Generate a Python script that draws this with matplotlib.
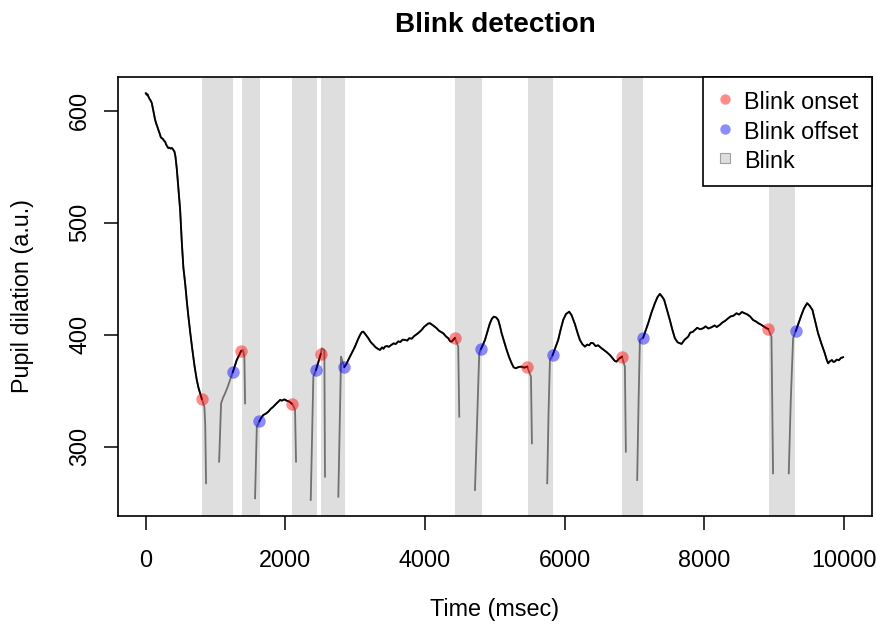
import numpy as np
import matplotlib
matplotlib.use("Agg")
import matplotlib.pyplot as plt
from matplotlib.lines import Line2D

plt.rcParams["font.family"] = ["Liberation Sans", "DejaVu Sans"]

# Pupil trace (msec, a.u.); nan marks missing samples.
nan = float("nan")
time_ms = [
    0, 12, 25, 37, 55, 70, 86, 100, 115, 133, 150, 165, 180, 200, 215, 229, 245, 262, 276, 290,
    305, 324, 340, 355, 372, 390, 410, 425, 444, 467, 491, 516, 538, 563, 590, 610, 640, 667, 700,
    730, 755, 778, 802, 839, 851, 863, 900,
    1050, 1078, 1105, 1136, 1170, 1207, 1246, 1275, 1303, 1335, 1365, 1390, 1412, 1422, 1450,
    1565, 1590, 1627, 1655, 1684, 1720, 1756, 1790, 1827, 1860, 1899, 1925, 1947, 1985, 2019,
    2055, 2091, 2115, 2138, 2152, 2200,
    2363, 2385, 2400, 2439, 2460, 2482, 2506, 2520, 2545, 2558, 2567, 2600,
    2758, 2797, 2815, 2844, 2870, 2901, 2950, 2997, 3035, 3069, 3095, 3116, 3150, 3188, 3225,
    3259, 3290, 3320, 3355, 3385, 3405, 3427, 3455, 3480, 3523, 3550, 3580, 3617, 3645, 3680,
    3713, 3745, 3775, 3810, 3846, 3880, 3910, 3952, 3985, 4015, 4045, 4071, 4100, 4125, 4167,
    4200, 4230, 4262, 4300, 4333, 4360, 4382, 4405, 4429, 4476, 4491, 4550,
    4716, 4750, 4777, 4802, 4830, 4859, 4895, 4930, 4960, 4988, 5020, 5049, 5075, 5098, 5135,
    5170, 5205, 5241, 5270, 5303, 5340, 5384, 5420, 5465, 5518, 5532, 5600,
    5751, 5770, 5790, 5828, 5865, 5908, 5945, 5980, 6020, 6066, 6100, 6148, 6185, 6219, 6255,
    6291, 6325, 6350, 6380, 6410, 6445, 6480, 6530, 6565, 6600, 6649, 6690, 6720, 6744, 6780,
    6821, 6864, 6871, 6878, 6950,
    7040, 7060, 7079, 7126, 7160, 7198, 7245, 7294, 7330, 7365, 7400, 7427, 7470, 7508, 7545,
    7580, 7620, 7676, 7720, 7771, 7800, 7835, 7867, 7900, 7940, 7986, 8020, 8060, 8105, 8150,
    8180, 8224, 8260, 8300, 8343, 8380, 8420, 8463, 8500, 8540, 8582, 8620, 8660, 8701, 8740,
    8780, 8821, 8860, 8890, 8916, 8964, 8987, 9100,
    9212, 9240, 9274, 9313, 9350, 9394, 9430, 9475, 9510, 9551, 9590, 9632, 9680, 9728, 9755,
    9776, 9800, 9830, 9850, 9871, 9900, 9930, 9960, 9990,
]
pupil = [
    615.8, 614.5, 614.8, 612.8, 610.5, 609.2, 606.9, 602.5, 597.8, 592.0, 588.5, 585.9, 583.0,
    579.5, 576.4, 575.6, 574.9, 573.2, 572.6, 570.1, 568.4, 566.7, 567.2, 566.4, 566.9, 565.6,
    563.6, 559.0, 548.0, 530.0, 512.0, 482.0, 460.0, 446.0, 428.0, 416.2, 400.0, 386.4, 371.0,
    359.6, 352.5, 347.7, 342.6, 335.7, 320.0, 267.3, nan,
    286.6, 338.7, 343.5, 347.7, 353.0, 359.6, 366.5, 372.0, 377.5, 381.5, 385.5, 386.5, 380.4,
    338.7, nan,
    253.9, 317.9, 322.7, 326.0, 328.3, 329.5, 331.3, 333.8, 335.7, 337.9, 340.2, 341.8, 341.1,
    342.2, 341.1, 340.3, 338.4, 336.5, 332.8, 286.6, nan,
    252.4, 320.0, 362.6, 368.6, 373.0, 377.5, 382.8, 387.9, 387.0, 386.4, 273.2, nan,
    255.3, 380.4, 376.5, 371.2, 373.5, 377.5, 383.5, 389.4, 395.2, 399.8, 402.4, 402.8, 400.1,
    396.9, 393.2, 391.1, 388.9, 387.6, 386.4, 388.7, 387.5, 389.4, 389.9, 389.2, 391.1, 392.3,
    391.7, 394.1, 393.5, 395.6, 395.4, 394.8, 396.9, 396.5, 398.9, 400.4, 401.9, 404.3, 406.9,
    408.5, 410.0, 410.3, 409.0, 407.9, 405.8, 403.6, 402.5, 401.3, 398.5, 396.9, 394.2, 393.8,
    395.5, 397.1, 389.4, 326.8, nan,
    261.3, 330.0, 383.5, 387.3, 391.0, 395.3, 403.0, 410.3, 414.5, 416.2, 415.4, 413.2, 407.5,
    401.3, 393.6, 386.4, 380.0, 374.5, 370.9, 370.0, 371.2, 371.5, 370.6, 371.5, 362.5, 303.0, nan,
    267.3, 330.0, 377.5, 381.7, 388.0, 395.3, 405.0, 413.2, 418.5, 420.6, 417.5, 409.5, 401.8,
    395.4, 391.6, 389.4, 391.2, 390.5, 392.8, 392.4, 389.8, 390.6, 387.9, 386.2, 384.6, 381.9,
    378.8, 376.5, 376.0, 378.6, 380.4, 371.5, 335.0, 295.5, nan,
    270.2, 340.0, 395.4, 397.4, 403.5, 410.3, 419.8, 428.2, 433.5, 436.5, 433.8, 431.1, 421.5,
    413.2, 404.3, 396.9, 393.2, 391.8, 395.6, 398.3, 401.9, 402.5, 404.3, 406.2, 404.9, 405.8,
    407.5, 405.6, 406.7, 408.3, 406.9, 408.8, 410.9, 412.4, 414.7, 416.4, 417.0, 419.2, 418.0,
    420.3, 419.2, 418.1, 416.2, 413.2, 411.9, 410.2, 408.8, 407.1, 406.0, 405.2, 398.3, 276.2, nan,
    276.2, 340.0, 396.9, 403.4, 410.0, 417.7, 423.5, 428.2, 426.0, 422.2, 412.0, 401.3, 392.0,
    383.5, 377.8, 374.5, 376.2, 377.4, 375.8, 376.0, 377.8, 377.2, 379.3, 379.9,
]

# Detected blink onsets / offsets
onset_t = [802, 1365, 2091, 2506, 4429, 5465, 6821, 8916]
onset_v = [342.6, 385.5, 338.4, 382.8, 397.1, 371.5, 380.4, 405.2]
offset_t = [1246, 1627, 2439, 2844, 4802, 5828, 7126, 9313]
offset_v = [366.5, 322.7, 368.6, 371.2, 387.3, 381.7, 397.4, 403.4]

# Shaded blink windows
blink_start = [811, 1375, 2091, 2506, 4429, 5479, 6823, 8930]
blink_end = [1254, 1633, 2453, 2850, 4812, 5833, 7126, 9308]

t = np.array(time_ms, dtype=float)
p = np.array(pupil, dtype=float)
inside = np.zeros(len(t), dtype=bool)
for a, b in zip(onset_t, offset_t):
    inside |= (t > a) & (t < b)
p_clean = np.where(inside, np.nan, p)

fig = plt.figure(figsize=(8.78, 6.27), dpi=100)
ax = fig.add_axes([0.1347, 0.1775, 0.8581, 0.7002])

for a, b in zip(blink_start, blink_end):
    ax.axvspan(a, b, color="#dedede", lw=0, zorder=0)

ax.plot(t, p, color="#707070", lw=1.3, zorder=2)
ax.plot(t, p_clean, color="black", lw=1.3, zorder=3)
ax.scatter(onset_t, onset_v, s=80, color="red", alpha=0.45, lw=0, zorder=4)
ax.scatter(offset_t, offset_v, s=80, color="blue", alpha=0.45, lw=0, zorder=4)

ax.set_xlim(-395, 10400)
ax.set_ylim(238.3, 630.6)
ax.set_xticks([0, 2000, 4000, 6000, 8000, 10000])
ax.set_yticks([300, 400, 500, 600])
ax.tick_params(axis="both", length=10, width=1.1, labelsize=16.8)
ax.tick_params(axis="x", pad=14)
ax.tick_params(axis="y", pad=13.2)
for lbl in ax.get_yticklabels():
    lbl.set_rotation(90)
    lbl.set_rotation_mode("anchor")
    lbl.set_ha("center")
    lbl.set_va("baseline")
for sp in ax.spines.values():
    sp.set_linewidth(1.2)

ax.set_title("Blink detection", fontsize=20.1, fontweight="bold", y=1.1018, pad=0, va="baseline")
ax.set_xlabel("Time (msec)", fontsize=16.8, va="baseline")
ax.xaxis.set_label_coords(0.5, -0.2285)
ax.set_ylabel("Pupil dilation (a.u.)", fontsize=16.8, va="baseline", rotation_mode="anchor")
ax.yaxis.set_label_coords(-0.1185, 0.5)

handles = [
    Line2D([], [], ls="none", marker="o", ms=7.5, mfc=(1, 0, 0, 0.45), mec="none"),
    Line2D([], [], ls="none", marker="o", ms=7.5, mfc=(0, 0, 1, 0.45), mec="none"),
    Line2D([], [], ls="none", marker="s", ms=6.5, mfc="#dedede", mec="#a0a0a0", mew=0.8),
]
leg = ax.legend(handles, ["Blink onset", "Blink offset", "Blink"], loc="upper right",
                fontsize=16.8, frameon=True, fancybox=False, framealpha=1, edgecolor="black",
                borderaxespad=0, borderpad=0.55, handlelength=0.82, handletextpad=0.42,
                handleheight=1.2, labelspacing=0.2)
leg.get_frame().set_linewidth(1.2)

fig.savefig("out.png", dpi=100)
